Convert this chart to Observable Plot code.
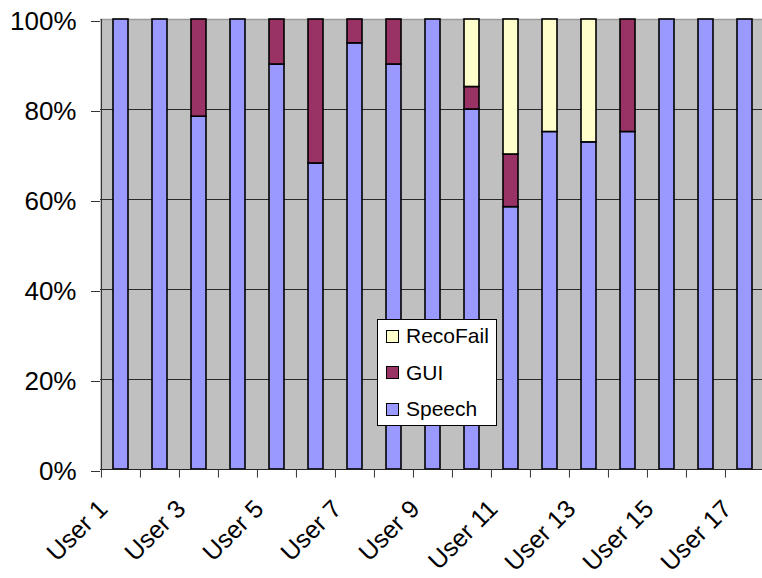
<!DOCTYPE html>
<html>
<head>
<meta charset="utf-8">
<script src="https://cdn.jsdelivr.net/npm/d3@7"></script>
<script src="https://cdn.jsdelivr.net/npm/@observablehq/plot@0.6"></script>
<style>
  html, body { margin: 0; padding: 0; background: #fff; }
  #wrap { position: relative; width: 762px; height: 578px; overflow: hidden; font-family: "Liberation Sans", Arial, sans-serif; }
  #legend { position: absolute; left: 377px; top: 319px; width: 118px; height: 105px; background: #fff; border: 1px solid #000; }
  .item { position: absolute; left: 8px; height: 24px; display: flex; align-items: center; font-size: 21px; color: #000; }
  .sw { width: 11px; height: 11px; border: 1px solid #000; margin-right: 7px; }
</style>
</head>
<body>
<div id="wrap"></div>
<script>
const users = ["User 1","User 2","User 3","User 4","User 5","User 6","User 7","User 8","User 9","User 10","User 11","User 12","User 13","User 14","User 15","User 16","User 17"];
const tickLabels = ["User 1","User 3","User 5","User 7","User 9","User 11","User 13","User 15","User 17"];
const seriesNames = ["Speech","GUI","RecoFail"];
const seriesColors = ["#9999FF","#993366","#FFFFCC"];
const speech   = [100,100,78.4,100,90,68,94.7,90,100,80,58.3,75,72.7,75,100,100,100];
const gui      = [0,0,21.6,0,10,32,5.3,10,0,5,11.7,0,0,25,0,0,0];
const recoFail = [0,0,0,0,0,0,0,0,0,15,30,25,27.3,0,0,0,0];
const yTicks = [0,20,40,60,80,100];

const rows = [];
users.forEach((u, i) => {
  [speech, gui, recoFail].forEach((arr, k) => {
    if (arr[i] > 0) rows.push({user: u, series: seriesNames[k], value: arr[i]});
  });
});

const W = 762, H = 578, mL = 100, mR = -3, mT = 19, mB = 109;
const step = (W - mL - mR) / users.length;

const chart = Plot.plot({
  width: W, height: H,
  marginLeft: mL, marginRight: mR, marginTop: mT, marginBottom: mB,
  style: {fontFamily: "'Liberation Sans', Arial, sans-serif", color: "#000", background: "transparent", overflow: "visible"},
  x: {type: "band", domain: users, paddingInner: 0.615, paddingOuter: 0.3075, axis: null},
  y: {domain: [0, 100], axis: null},
  color: {domain: seriesNames, range: seriesColors},
  marks: [
    Plot.frame({fill: "#C0C0C0", stroke: null}),
    Plot.ruleY([20, 40, 60, 80], {stroke: "#2a2a2a", strokeWidth: 1}),
    Plot.ruleY([100], {stroke: "#9a9a9a", strokeWidth: 1.5}),
    Plot.barY(rows, Plot.stackY({x: "user", y: "value", fill: "series", z: "series", order: seriesNames, stroke: "#000", strokeWidth: 1.6})),
    Plot.ruleX([users[0]], {x: d => d, dx: -step / 2, y1: 0, y2: 100, stroke: "#333", strokeWidth: 1.2}),
    Plot.ruleY([0], {stroke: "#222", strokeWidth: 1.2}),
    Plot.ruleX(users, {x: d => d, dx: -step / 2, y1: 0, y2: -1.9, stroke: "#333", strokeWidth: 1}),
    Plot.axisY({ticks: yTicks, tickFormat: d => d + "%", label: null, tickSize: 9, tickPadding: 15, fontSize: 26, dy: 2, stroke: "#333"}),
    Plot.text(tickLabels, {x: d => d, text: d => d, frameAnchor: "bottom", rotate: -45, textAnchor: "end", lineAnchor: "bottom", fontSize: 25, dx: -12, dy: 41, fill: "#000"})
  ]
});

const wrap = document.getElementById("wrap");
wrap.appendChild(chart);

const legend = document.createElement("div");
legend.id = "legend";
const order = ["RecoFail", "GUI", "Speech"];
const tops = [4, 40.5, 77];
order.forEach((name, i) => {
  const it = document.createElement("div");
  it.className = "item";
  it.style.top = tops[i] + "px";
  const sw = document.createElement("div");
  sw.className = "sw";
  sw.style.background = seriesColors[seriesNames.indexOf(name)];
  const tx = document.createElement("span");
  tx.textContent = name;
  it.appendChild(sw);
  it.appendChild(tx);
  legend.appendChild(it);
});
wrap.appendChild(legend);
</script>
</body>
</html>
